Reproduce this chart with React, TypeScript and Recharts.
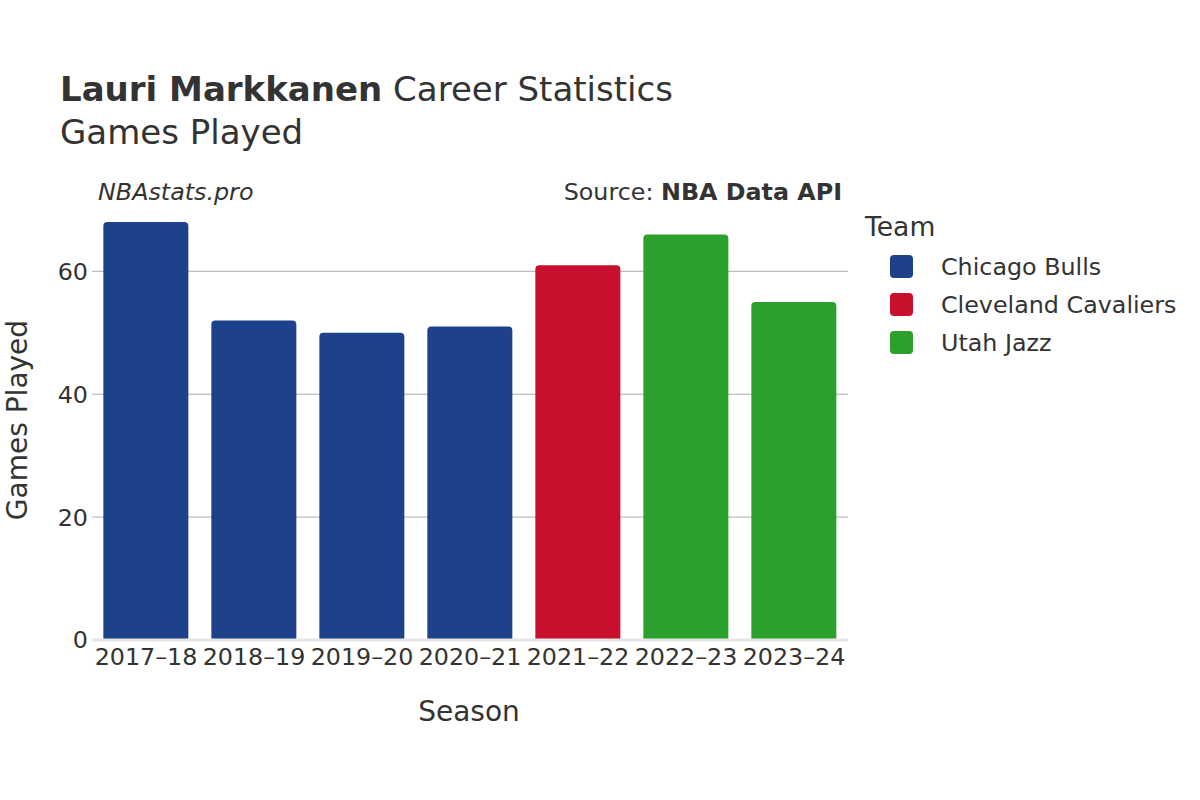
import React from "react"
import { BarChart, Bar, XAxis, YAxis, CartesianGrid, ReferenceLine, Cell } from "recharts"

const seasons = ["2017–18", "2018–19", "2019–20", "2020–21", "2021–22", "2022–23", "2023–24"]
const gamesPlayed = [68, 52, 50, 51, 61, 66, 55]
const seasonTeams = ["Chicago Bulls", "Chicago Bulls", "Chicago Bulls", "Chicago Bulls", "Cleveland Cavaliers", "Utah Jazz", "Utah Jazz"]
const teams = ["Chicago Bulls", "Cleveland Cavaliers", "Utah Jazz"]
const teamColors = ["#1d428a", "#c8102e", "#2ca02c"]
const yTicks = [0, 20, 40, 60]
const gridValues = [20, 40, 60]

const FONT = "'DejaVu Sans', sans-serif"
const TEXT = "#333"

const data = seasons.map((s, i) => ({ season: s, games: gamesPlayed[i], team: seasonTeams[i] }))

const colorFor = (team: string) => teamColors[teams.indexOf(team)]

export default function App() {
    return (
        <div style={{ position: "absolute", left: 0, top: 0, width: 1200, height: 800, background: "#fff", fontFamily: FONT }}>
            <BarChart
                width={1200}
                height={800}
                data={data}
                margin={{ top: 200, right: 352, left: 32, bottom: 100 }}
                barCategoryGap="10.5%"
            >
                <CartesianGrid horizontal vertical={false} horizontalValues={gridValues} stroke="#adadad" strokeWidth={1} />
                <XAxis
                    dataKey="season"
                    height={60}
                    tickLine={false}
                    axisLine={false}
                    tickSize={0}
                    tickMargin={8}
                    tick={{ fill: TEXT, fontSize: 23.8, fontFamily: FONT }}
                    interval={0}
                />
                <YAxis
                    width={60}
                    domain={[0, 71.6]}
                    ticks={yTicks}
                    tickLine={false}
                    axisLine={false}
                    tickSize={0}
                    tickMargin={4}
                    tick={{ fill: TEXT, fontSize: 23.8, fontFamily: FONT }}
                />
                <Bar dataKey="games" isAnimationActive={false} radius={[4, 4, 0, 0]}>
                    {data.map((d, i) => (
                        <Cell key={`cell-${i}`} fill={colorFor(d.team)} />
                    ))}
                </Bar>
                <ReferenceLine y={0} stroke="#e6e6e6" strokeWidth={3} />
            </BarChart>

            {/* titles, notes and legend drawn on top */}
            <svg width={1200} height={800} style={{ position: "absolute", left: 0, top: 0, pointerEvents: "none" }}>
                <text x={60} y={101} fontSize={34} fill={TEXT} fontFamily={FONT}>
                    <tspan fontWeight="bold">Lauri Markkanen</tspan>
                    <tspan> Career Statistics</tspan>
                </text>
                <text x={60} y={144} fontSize={34} fill={TEXT} fontFamily={FONT}>Games Played</text>
                <text x={98} y={200} fontSize={23.8} fill={TEXT} fontFamily={FONT} fontStyle="italic">NBAstats.pro</text>
                <text x={842} y={200} fontSize={23.8} fill={TEXT} fontFamily={FONT} textAnchor="end">
                    <tspan>Source: </tspan>
                    <tspan fontWeight="bold">NBA Data API</tspan>
                </text>
                <text x={469} y={721} fontSize={28} fill={TEXT} fontFamily={FONT} textAnchor="middle">Season</text>
                <text
                    x={0}
                    y={0}
                    fontSize={28}
                    fill={TEXT}
                    fontFamily={FONT}
                    textAnchor="middle"
                    transform="translate(27,420) rotate(-90)"
                >
                    Games Played
                </text>
                <text x={865} y={236} fontSize={26.6} fill={TEXT} fontFamily={FONT}>Team</text>
                {teams.map((t, i) => (
                    <g key={t}>
                        <rect x={890} y={255 + i * 38} width={23} height={23} rx={4} fill={teamColors[i]} />
                        <text x={941} y={275 + i * 38} fontSize={23.8} fill={TEXT} fontFamily={FONT}>{t}</text>
                    </g>
                ))}
            </svg>
        </div>
    )
}
